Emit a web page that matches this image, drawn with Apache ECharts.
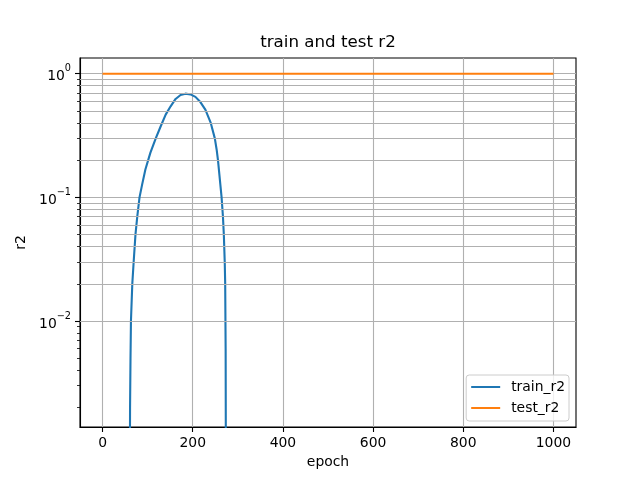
<!DOCTYPE html>
<html>
<head>
<meta charset="utf-8">
<script src="https://cdn.jsdelivr.net/npm/echarts@6/dist/echarts.min.js"></script>
<style>html,body{margin:0;padding:0;background:#fff}#c{width:640px;height:480px}</style>
</head>
<body>
<div id="c"></div>
<script>
const trainEpochs = [60, 61, 62, 63, 66, 69, 73, 77, 82, 88, 95, 106, 118, 129, 140, 151, 162, 173, 184, 195, 206, 217, 228, 240, 249, 253, 256, 264, 267, 269, 271, 272, 273, 274];
const trainR2 = [0.0001, 0.002, 0.005, 0.01, 0.02, 0.03, 0.05, 0.07, 0.1, 0.128, 0.168, 0.229, 0.30, 0.376, 0.467, 0.545, 0.625, 0.673, 0.69, 0.68, 0.65, 0.59, 0.512, 0.4, 0.3, 0.244, 0.2, 0.1, 0.07, 0.05, 0.03, 0.02, 0.006, 0.0001];
const testEpochs = [0, 1000];
const testR2 = [1.0, 1.0];
const xTicks = [0, 200, 400, 600, 800, 1000];
const yMajorTicks = [0.01, 0.1, 1];
const yMinorTicks = [0.002, 0.003, 0.004, 0.005, 0.006, 0.007, 0.008, 0.009,
  0.02, 0.03, 0.04, 0.05, 0.06, 0.07, 0.08, 0.09,
  0.2, 0.3, 0.4, 0.5, 0.6, 0.7, 0.8, 0.9];

const FONT = 'DejaVu Sans';
const GRID = '#b0b0b0';
const chart = echarts.init(document.getElementById('c'), null, {renderer: 'canvas'});
const pair = (xs, ys) => xs.map((x, i) => [x, ys[i]]);
const sup = v => {
  const e = Math.round(Math.log10(v));
  return '{b|10}{s|' + (e < 0 ? '\u2212' + (-e) : e) + '}';
};

chart.setOption({
  animation: false,
  backgroundColor: '#fff',
  title: {
    text: 'train and test r2',
    left: 328, top: 34, textAlign: 'center', padding: 0,
    textStyle: {fontFamily: FONT, fontSize: 16.7, fontWeight: 'normal', color: '#000'}
  },
  grid: {left: 80, right: 64, top: 58, bottom: 53, show: true, borderColor: '#000', borderWidth: 1.1, backgroundColor: 'transparent'},
  legend: {
    orient: 'vertical', right: 71, bottom: 59,
    data: ['train_r2', 'test_r2'],
    icon: 'rect', itemWidth: 29, itemHeight: 2, itemGap: 5,
    padding: [4, 4, 5, 5],
    backgroundColor: 'rgba(255,255,255,0.8)', borderColor: '#cccccc', borderWidth: 1, borderRadius: 3,
    textStyle: {fontFamily: FONT, fontSize: 13.9, color: '#000', lineHeight: 16, padding: [0, 0, 0, 6]}
  },
  xAxis: {
    type: 'value', min: -50, max: 1050,
    name: 'epoch', nameLocation: 'middle', nameGap: 28,
    nameTextStyle: {fontFamily: FONT, fontSize: 13.9, color: '#000'},
    axisLine: {show: true, onZero: false, lineStyle: {color: '#000', width: 1.1}},
    axisTick: {show: true, inside: false, length: 5, customValues: xTicks, lineStyle: {color: '#000', width: 1.1}},
    axisLabel: {customValues: xTicks, margin: 9, fontFamily: FONT, fontSize: 13.9, color: '#000', formatter: v => String(v)},
    splitLine: {show: true, lineStyle: {color: GRID, width: 1.1}}
  },
  yAxis: [{
    type: 'log', logBase: 10, min: 0.00139, max: 1.34,
    name: 'r2', nameLocation: 'middle', nameGap: 43,
    nameTextStyle: {fontFamily: FONT, fontSize: 13.9, color: '#000'},
    axisLine: {show: true, onZero: false, lineStyle: {color: '#000', width: 1.1}},
    axisTick: {show: true, inside: false, length: 5, customValues: yMajorTicks, lineStyle: {color: '#000', width: 1.1}},
    axisLabel: {
      customValues: yMajorTicks, margin: 9,
      formatter: sup,
      rich: {
        b: {fontFamily: FONT, fontSize: 13.9, color: '#000', verticalAlign: 'bottom', lineHeight: 20},
        s: {fontFamily: FONT, fontSize: 9.7, color: '#000', verticalAlign: 'top', lineHeight: 20}
      }
    },
    splitLine: {show: true, lineStyle: {color: GRID, width: 1.1}}
  }, {
    type: 'log', logBase: 10, min: 0.00139, max: 1.34, position: 'left',
    axisLine: {show: false, onZero: false},
    axisTick: {show: true, inside: false, length: 3, customValues: yMinorTicks, lineStyle: {color: '#000', width: 0.8}},
    axisLabel: {show: false},
    splitLine: {show: false}
  }],
  series: [
    {
      type: 'line', data: [], z: 1, silent: true,
      markLine: {
        silent: true, symbol: 'none', animation: false,
        label: {show: false},
        lineStyle: {color: GRID, width: 1.1, type: 'solid'},
        data: yMinorTicks.map(v => ({yAxis: v}))
      }
    },
    {
      name: 'train_r2', type: 'line', z: 3, showSymbol: false, symbol: 'none',
      data: pair(trainEpochs, trainR2),
      lineStyle: {color: '#1f77b4', width: 2.1, join: 'round'}, itemStyle: {color: '#1f77b4'}
    },
    {
      name: 'test_r2', type: 'line', z: 3, showSymbol: false, symbol: 'none',
      data: pair(testEpochs, testR2),
      lineStyle: {color: '#ff7f0e', width: 2.1}, itemStyle: {color: '#ff7f0e'}
    }
  ]
});
</script>
</body>
</html>
